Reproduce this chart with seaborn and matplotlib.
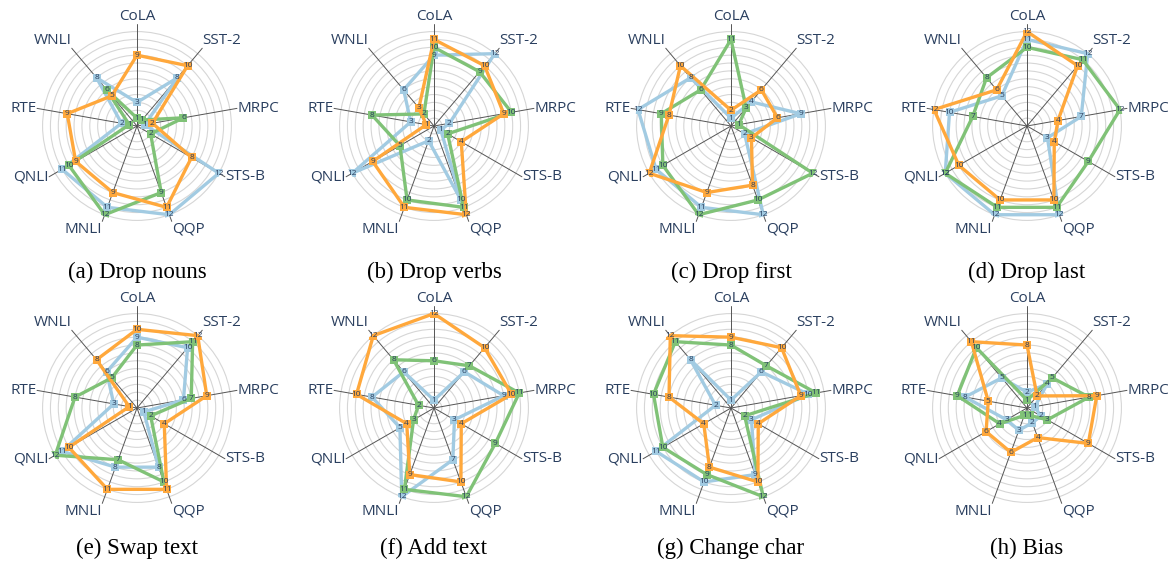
import numpy as np
import pandas as pd
import matplotlib
matplotlib.use("Agg")
import matplotlib.pyplot as plt
import seaborn as sns

sns.set_theme(style="white")
plt.rcParams['font.family'] = ['Open Sans', 'DejaVu Sans']

tasks = ['CoLA', 'SST-2', 'MRPC', 'STS-B', 'QQP', 'MNLI', 'QNLI', 'RTE', 'WNLI']

# ranks per task, one list per series (orange / green / blue)
nouns_o = [9, 10, 2, 8, 11, 9, 9, 9, 5]
nouns_g = [1, 1, 6, 2, 9, 12, 10, 1, 6]
nouns_b = [3, 8, 1, 12, 12, 11, 11, 2, 8]

verbs_o = [11, 10, 9, 4, 12, 11, 9, 1, 3]
verbs_g = [10, 9, 10, 2, 11, 10, 5, 8, 2]
verbs_b = [9, 12, 2, 1, 10, 2, 12, 3, 6]

first_o = [2, 6, 6, 3, 8, 9, 12, 8, 10]
first_g = [11, 3, 1, 12, 10, 12, 10, 9, 6]
first_b = [1, 4, 9, 2, 12, 11, 11, 12, 8]

last_o = [12, 10, 4, 4, 10, 10, 10, 12, 6]
last_g = [10, 11, 12, 9, 11, 11, 12, 7, 8]
last_b = [11, 12, 7, 3, 12, 12, 12, 10, 5]

swap_o = [10, 12, 9, 4, 11, 11, 10, 1, 8]
swap_g = [8, 11, 7, 2, 10, 7, 12, 8, 5]
swap_b = [9, 10, 6, 1, 8, 8, 11, 3, 6]

add_o = [12, 10, 10, 4, 10, 9, 4, 10, 12]
add_g = [6, 7, 11, 9, 12, 11, 3, 2, 8]
add_b = [1, 6, 9, 3, 7, 12, 5, 8, 6]

char_o = [9, 10, 9, 4, 10, 8, 4, 8, 12]
char_g = [8, 7, 11, 2, 12, 9, 10, 10, 11]
char_b = [1, 6, 10, 3, 9, 10, 11, 2, 8]

bias_o = [8, 2, 9, 9, 4, 6, 6, 5, 11]
bias_g = [1, 5, 8, 3, 1, 1, 4, 9, 10]
bias_b = [2, 4, 1, 2, 2, 3, 3, 8, 5]

captions = ['(a) Drop nouns', '(b) Drop verbs', '(c) Drop first', '(d) Drop last',
            '(e) Swap text', '(f) Add text', '(g) Change char', '(h) Bias']
panels = [
    (nouns_o, nouns_g, nouns_b), (verbs_o, verbs_g, verbs_b),
    (first_o, first_g, first_b), (last_o, last_g, last_b),
    (swap_o, swap_g, swap_b), (add_o, add_g, add_b),
    (char_o, char_g, char_b), (bias_o, bias_g, bias_b),
]

colors = {'orange': '#ffa83c', 'green': '#80c277', 'blue': '#a2cbe2'}
draw_order = ['blue', 'green', 'orange']
text_col = '#2a3f5f'

fig = plt.figure(figsize=(11.68, 5.66), dpi=100)

angles = np.linspace(0, 2 * np.pi, len(tasks), endpoint=False)
rmax = 12.2

xc = [137 / 1168, 434 / 1168, 731 / 1168, 1027 / 1168]
yc = [1 - 126 / 566, 1 - 408 / 566]
w = 192 / 1168
h = 192 / 566

for k, (cap, (vo, vg, vb)) in enumerate(zip(captions, panels)):
    row, col = divmod(k, 4)
    ax = fig.add_axes([xc[col] - w / 2, yc[row] - h / 2, w, h], projection='polar')
    ax.set_theta_offset(np.pi / 2)
    ax.set_theta_direction(-1)
    ax.set_ylim(0, rmax)
    ax.set_yticks(range(1, 13))
    ax.set_yticklabels([])
    ax.set_xticks([])
    ax.spines['polar'].set_visible(False)
    ax.grid(True, axis='y', color='#d6d6d6', lw=0.8)
    ax.set_facecolor('white')

    # spokes and task labels
    for t, name in zip(angles, tasks):
        ax.plot([t, t], [0, 12.9], color='#555555', lw=0.7, zorder=1, clip_on=False)
        a = np.pi / 2 - t
        ca, sa = np.cos(a), np.sin(a)
        ha = 'left' if ca > 0.3 else ('right' if ca < -0.3 else 'center')
        va = 'bottom' if sa > 0.6 else ('top' if sa < -0.6 else 'center')
        ax.text(t, 12.95, name, ha=ha, va=va, fontsize=11, color=text_col,
                clip_on=False)

    series = {'orange': vo, 'green': vg, 'blue': vb}
    for z, key in enumerate(draw_order):
        vals = series[key]
        df = pd.DataFrame({'theta': list(angles) + [angles[0]],
                           'rank': list(vals) + [vals[0]]})
        sns.lineplot(data=df, x='theta', y='rank', sort=False, ax=ax,
                     color=colors[key], lw=2.4, zorder=3 + z, estimator=None)
        sns.scatterplot(data=df.iloc[:-1], x='theta', y='rank', ax=ax,
                        color=colors[key], marker='s', s=26, linewidth=0,
                        zorder=3 + z)
        for t, v in zip(angles, vals):
            ax.text(t, v, str(v), fontsize=6, ha='center', va='center',
                    color=text_col, zorder=10 + z)
    ax.set_xlabel('')
    ax.set_ylabel('')

    fig.text(xc[col], 1 - (272 if row == 0 else 548) / 566, cap,
             ha='center', va='center', fontsize=16.5,
             family=['Liberation Serif', 'DejaVu Serif'], color='black')

fig.savefig('out.png', dpi=100)
